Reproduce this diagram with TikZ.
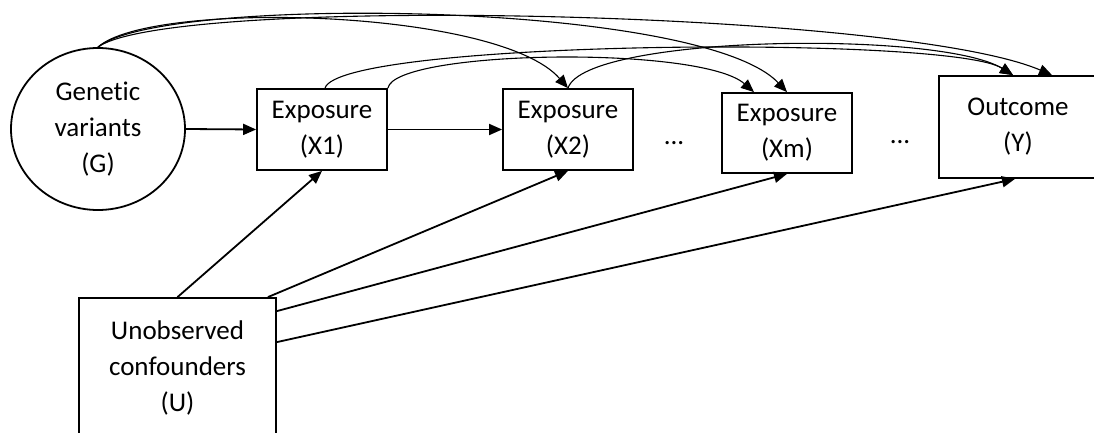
\documentclass[tikz,border=0pt]{standalone}
\usepackage{fontspec}
\setmainfont{Carlito}[Ligatures=CommonOff]
\usetikzlibrary{arrows.meta,shapes.geometric,positioning,calc}

\begin{document}
\begin{tikzpicture}
            [x=1pt, y=-1pt, ->, >={Triangle[length=13pt,width=11pt]}, line width=1.8pt,
            txt/.style={font=\fontsize{27}{36}\selectfont, align=center, inner sep=0pt},
            varbox/.style={txt, rectangle, draw=black, line width=1.8pt, minimum width=130pt, minimum height=81pt},
            arc/.style={line width=1.1pt}]
            \useasboundingbox (0,0) rectangle (1094,433);
            % nodes
            \node[txt, ellipse, draw=black, line width=1.8pt, minimum width=174pt, minimum height=162pt] (G) at (98,129) {Genetic\\variants\\(G)};
            \node[varbox] (X1) at (322,129.5) {Exposure\\(X1)};
            \node[varbox] (X2) at (568,129.5) {Exposure\\(X2)};
            \node[varbox, minimum height=80pt] (Xm) at (787,133) {Exposure\\(Xm)};
            \node[varbox, minimum width=158pt, minimum height=102pt] (Y) at (1018,127) {Outcome\\(Y)};
            \node[varbox, minimum width=197pt, minimum height=140pt] (U) at (177.5,368) {Unobserved\\confounders\\(U)};
            \node[txt] (dots1) at (674,143) {...};
            \node[txt] (dots2) at (900,142) {...};
            % straight arrows
            \draw (G.east) -- (X1.west);
            \draw (X1.east) -- (X2.west);
            \draw (U.north) -- (X1.south);
            \draw ([xshift=-9pt]U.north east) -- (X2.south);
            \draw ([yshift=-14pt]U.north east) -- (Xm.south);
            \draw ([yshift=-45pt]U.north east) -- ([xshift=-3pt]Y.south);
            % curved arrows along the top
            \draw[arc] (G.north) .. controls (150,0) and (498,8) .. (X2.north);
            \draw[arc] (G.north) .. controls (160,-5) and (700,0) .. (Xm.north);
            \draw[arc] (G.north) .. controls (170,-5) and (900,10) .. ([xshift=34pt]Y.north);
            \draw[arc] ([xshift=3pt]X1.north) .. controls (340,40) and (950,35) .. ([xshift=-5pt]Y.north);
            \draw[arc] (X1.north east) .. controls (395,50) and (700,45) .. ([xshift=-33pt]Xm.north);
            \draw[arc] (X2.north) .. controls (585,35) and (940,30) .. ([xshift=-5pt]Y.north);
\end{tikzpicture}
\end{document}
